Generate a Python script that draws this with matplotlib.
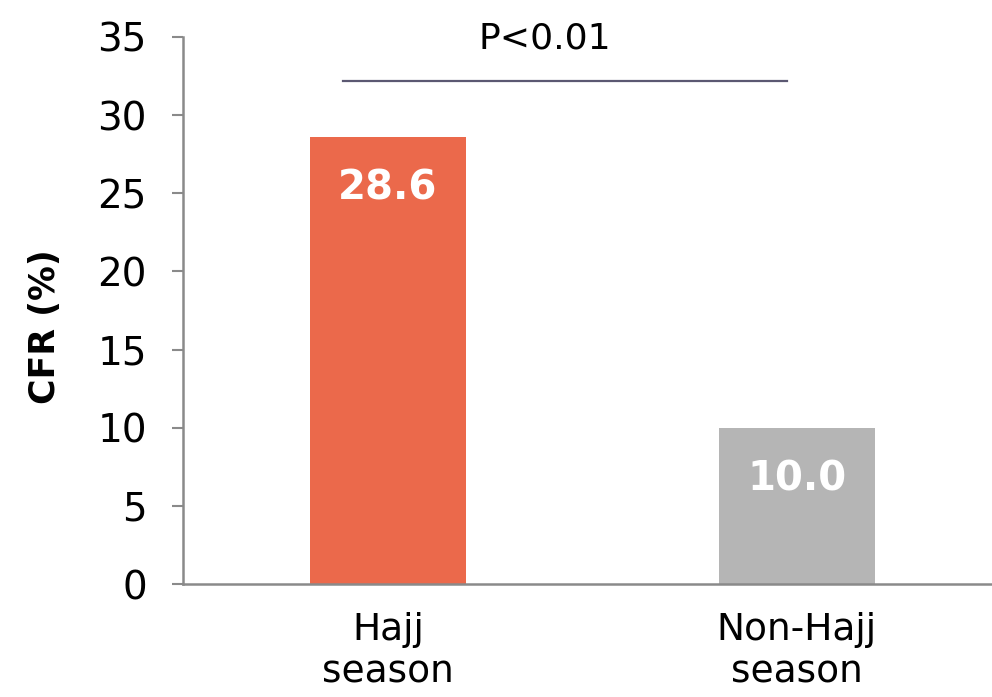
import matplotlib.pyplot as plt

# case fatality rate by season
seasons = ['Hajj\nseason', 'Non-Hajj\nseason']
cfr = [28.6, 10.0]
bar_colors = ['#EB694B', '#B5B5B5']
p_text = 'P<0.01'

fig = plt.figure(figsize=(9.92, 6.97), dpi=100)
ax = fig.add_axes([0.1845, 0.162, 0.8155, 0.785])

x = list(range(len(seasons)))
ax.bar(x, cfr, width=0.38, color=bar_colors)

# value labels inside the bars
for xi, v in zip(x, cfr):
    ax.text(xi, v - 3.3, f'{v:.1f}', ha='center', va='center',
            color='white', fontsize=29, fontweight='bold')

# significance bracket
ax.plot([-0.11, 0.976], [32.2, 32.2], color='#5B5872', lw=1.6, clip_on=False)
ax.text(0.384, 34.9, p_text, ha='center', va='center', fontsize=26, clip_on=False)

ax.set_xlim(-0.501, 1.477)
ax.set_ylim(0, 35)
ax.set_yticks(range(0, 36, 5))
ax.set_xticks(x)
ax.set_xticklabels(seasons, fontsize=27, linespacing=1.22)
ax.tick_params(axis='y', labelsize=28, length=8, width=1.5, color='#8a8a8a', pad=18)
ax.tick_params(axis='x', length=0, pad=20)
ax.set_ylabel('CFR (%)', fontsize=25, fontweight='bold')
ax.yaxis.set_label_coords(-0.15, 0.47)

for s in ['top', 'right']:
    ax.spines[s].set_visible(False)
for s in ['left', 'bottom']:
    ax.spines[s].set_color('#8a8a8a')
    ax.spines[s].set_linewidth(1.8)

fig.savefig('out.png', dpi=100)
